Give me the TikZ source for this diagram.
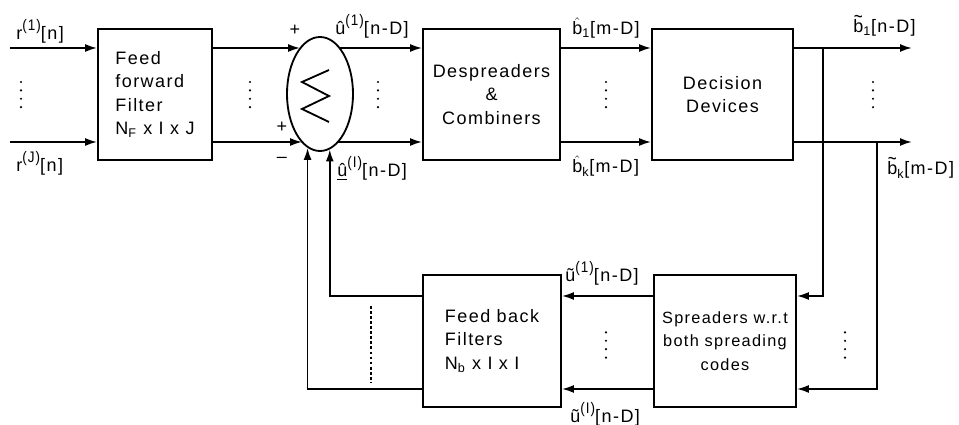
\documentclass[tikz,border=0pt]{standalone}
\usepackage{fontspec}
\setmainfont{Liberation Sans}[LetterSpace=8]
\usetikzlibrary{arrows.meta,shapes.geometric}

\newcommand\supx[1]{\raisebox{0.5em}{\scalebox{0.75}[0.85]{#1}}}
\newcommand\hatb{$\hat{\mbox{b}}$}
\newcommand\tilb{\ooalign{b\cr\hidewidth\raisebox{0.55em}{\scalebox{0.85}[1.15]{\textasciitilde}}\hidewidth\cr}}

\tikzset{
  blk/.style={draw,line width=1.3pt,minimum height=3.3cm,inner sep=0pt,align=center},
  flow/.style={->,line width=1.3pt},
  lbl/.style={anchor=base west,inner sep=0pt},
}

\begin{document}
\begin{tikzpicture}[x=1cm,y=1cm,font=\fontsize{12.8}{16.6}\selectfont,>={Latex[length=3mm,width=2mm]}]
  \useasboundingbox (0,0) rectangle (23.975,10.625);

  % rows
  \coordinate (in1) at (0.25,9.425);
  \coordinate (inJ) at (0.25,7.075);
  \coordinate (lowA) at (0,3.225);
  \coordinate (lowB) at (0,0.9);
  \coordinate (out1) at (22.8,9.425);
  \coordinate (outK) at (22.8,7.075);
  \coordinate (tap1) at (20.575,9.425);
  \coordinate (tap2) at (21.925,7.075);

  % blocks
  \node[blk,minimum width=2.85cm,minimum height=3.275cm,align=left] (ff) at (3.875,8.2625) {Feed\\forward\\Filter\\N\textsubscript{F} x I x J};
  \node[draw,ellipse,line width=1.3pt,minimum width=1.65cm,minimum height=2.85cm,inner sep=0pt] (sum) at (8.0,8.275) {};
  \node[blk,minimum width=3.425cm,minimum height=3.275cm] (desp) at (12.2875,8.2625) {Despreaders\\\&\\Combiners};
  \node[blk,minimum width=3.525cm,minimum height=3.275cm] (dec) at (18.0625,8.2625) {Decision\\Devices};
  \node[blk,minimum width=3.45cm,align=left] (fb) at (12.3,2.1) {Feed back\\Filters\\N\textsubscript{b} x I x I};
  \node[blk,minimum width=3.55cm,font=\fontsize{11.6}{16.6}\selectfont] (spr) at (18.125,2.1) {Spreaders w.r.t\\both spreading\\codes};

  % summing sign
  \draw[line width=1.3pt] ([shift={(0.225,0.6)}]sum.center) -- ++(-0.675,-0.3) -- ++(0.675,-0.35) -- ++(-0.675,-0.325) -- ++(0.675,-0.325);

  % forward path
  \draw[flow] (in1) -- (in1 -| ff.west);
  \draw[flow] (inJ) -- (inJ -| ff.west);
  \draw[flow] (ff.east |- in1) -- (in1 -| sum.113);
  \draw[flow] (ff.east |- inJ) -- (inJ -| sum.-110);
  \draw[flow] (in1 -| sum.67) -- (in1 -| desp.west);
  \draw[flow] (inJ -| sum.-70) -- (inJ -| desp.west);
  \draw[flow] (desp.east |- in1) -- (dec.west |- in1);
  \draw[flow] (desp.east |- inJ) -- (dec.west |- inJ);
  \draw[flow] (dec.east |- in1) -- (out1);
  \draw[flow] (dec.east |- inJ) -- (outK);

  % feedback path
  \draw[flow] (tap1) |- (spr.east |- lowA);
  \draw[flow] (tap2) |- (spr.east |- lowB);
  \draw[flow] (spr.west |- lowA) -- (fb.east |- lowA);
  \draw[flow] (spr.west |- lowB) -- (fb.east |- lowB);
  \draw[flow] (fb.west |- lowA) -| (sum.-80);
  \draw[flow] (fb.west |- lowB) -| (sum.-103);
  \draw[line width=1.1pt,dash pattern=on 2pt off 1.6pt] (9.275,2.975) -- (9.275,1.05);

  % dots
  \foreach \px/\py in {0.525/8.26,6.25/8.26,9.45/8.26,15.15/8.26,21.825/8.26,15.15/2.0,21.125/2.0}
    \foreach \k in {-1.5,-0.5,0.5,1.5}
      \fill (\px,\py+\k*0.21) circle (0.03);

  % signs
  \node (p1) at (7.375,9.875) {+};
  \node (p2) at (7.05,7.45) {+};
  \node (m1) at (7.05,6.625) {–};

  % labels
  \node[lbl] (lr1) at (0.4,9.625) {r\supx{(1)}[n]};
  \node[lbl] (lrJ) at (0.4,6.325) {r\supx{(J)}[n]};
  \node[lbl] (lu1) at (8.375,9.75) {û\supx{(1)}[n-D]};
  \node[lbl] (luI) at (8.425,6.2) {\underline{û}\supx{(I)}[n-D]};
  \node[lbl] (lb1) at (14.3,9.75) {\hatb\textsubscript{1}[m-D]};
  \node[lbl] (lbk) at (14.3,6.3) {\hatb\textsubscript{k}[m-D]};
  \node[lbl] (lt1) at (21.325,9.8) {\tilb\textsubscript{1}[n-D]};
  \node[lbl] (ltk) at (22.175,6.25) {\tilb\textsubscript{k}[m-D]};
  \node[lbl] (lw1) at (14.125,3.575) {ũ\supx{(1)}[n-D]};
  \node[lbl] (lwI) at (14.25,0.05) {ũ\supx{(I)}[n-D]};
\end{tikzpicture}
\end{document}
